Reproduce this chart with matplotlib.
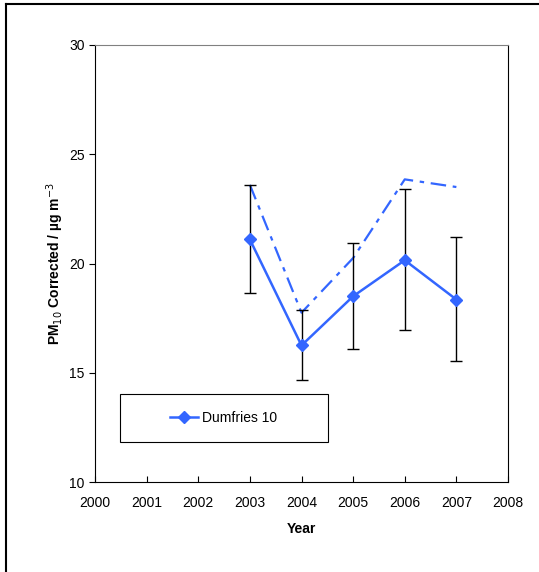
import matplotlib
matplotlib.use("Agg")
import matplotlib.pyplot as plt
from matplotlib.lines import Line2D
from matplotlib.patches import Rectangle

plt.rcParams['font.family'] = ['Liberation Sans', 'DejaVu Sans']

years = [2003, 2004, 2005, 2006, 2007]
pm10 = [21.1, 16.25, 18.5, 20.15, 18.35]
err_low = [18.65, 14.65, 16.1, 16.95, 15.55]
err_high = [23.6, 17.85, 20.95, 23.4, 21.2]
dashed = [23.6, 17.75, 20.25, 23.85, 23.5]

blue = '#3366FF'

fig = plt.figure(figsize=(5.39, 5.72), dpi=100)
ax = fig.add_axes([95 / 539, 1 - 482 / 572, 413 / 539, 437 / 572])

ax.plot(years, dashed, color=blue, lw=1.6, dashes=(7, 3, 2, 3))
yerr = [[p - lo for p, lo in zip(pm10, err_low)],
        [hi - p for p, hi in zip(pm10, err_high)]]
ax.errorbar(years, pm10, yerr=yerr, fmt='none', ecolor='black', elinewidth=1,
            capsize=4, capthick=1)
ax.plot(years, pm10, color=blue, lw=1.8, marker='D', markersize=6,
        label='Dumfries 10')

ax.set_xlim(2000, 2008)
ax.set_ylim(10, 30)
ax.set_xticks(range(2000, 2009))
ax.set_yticks([10, 15, 20, 25, 30])
ax.tick_params(axis='x', direction='in', length=4, labelsize=10, pad=10)
ax.tick_params(axis='y', direction='out', length=4, labelsize=10)
for s in ax.spines.values():
    s.set_color('black')
ax.spines['top'].set_color('#808080')

ax.set_xlabel('Year', fontsize=10, fontweight='bold', labelpad=9)
ax.set_ylabel('PM$_{10}$ Corrected / µg m$^{-3}$', fontsize=10,
              fontweight='bold', labelpad=2)

# legend box
ax.add_patch(Rectangle((0.06, 0.0915), 0.504, 0.11, transform=ax.transAxes,
                       facecolor='white', edgecolor='black', lw=0.8))
ax.legend(loc='center', bbox_to_anchor=(0.312, 0.1465), frameon=False,
          fontsize=10, handlelength=2.0, handletextpad=0.3)

fig.add_artist(Line2D([6 / 539, 1], [1 - 4 / 572, 1 - 4 / 572],
                      transform=fig.transFigure, color='black', lw=1.5))
fig.add_artist(Line2D([6 / 539, 6 / 539], [0, 1 - 4 / 572],
                      transform=fig.transFigure, color='black', lw=1.5))

fig.savefig('out.png', dpi=100)
